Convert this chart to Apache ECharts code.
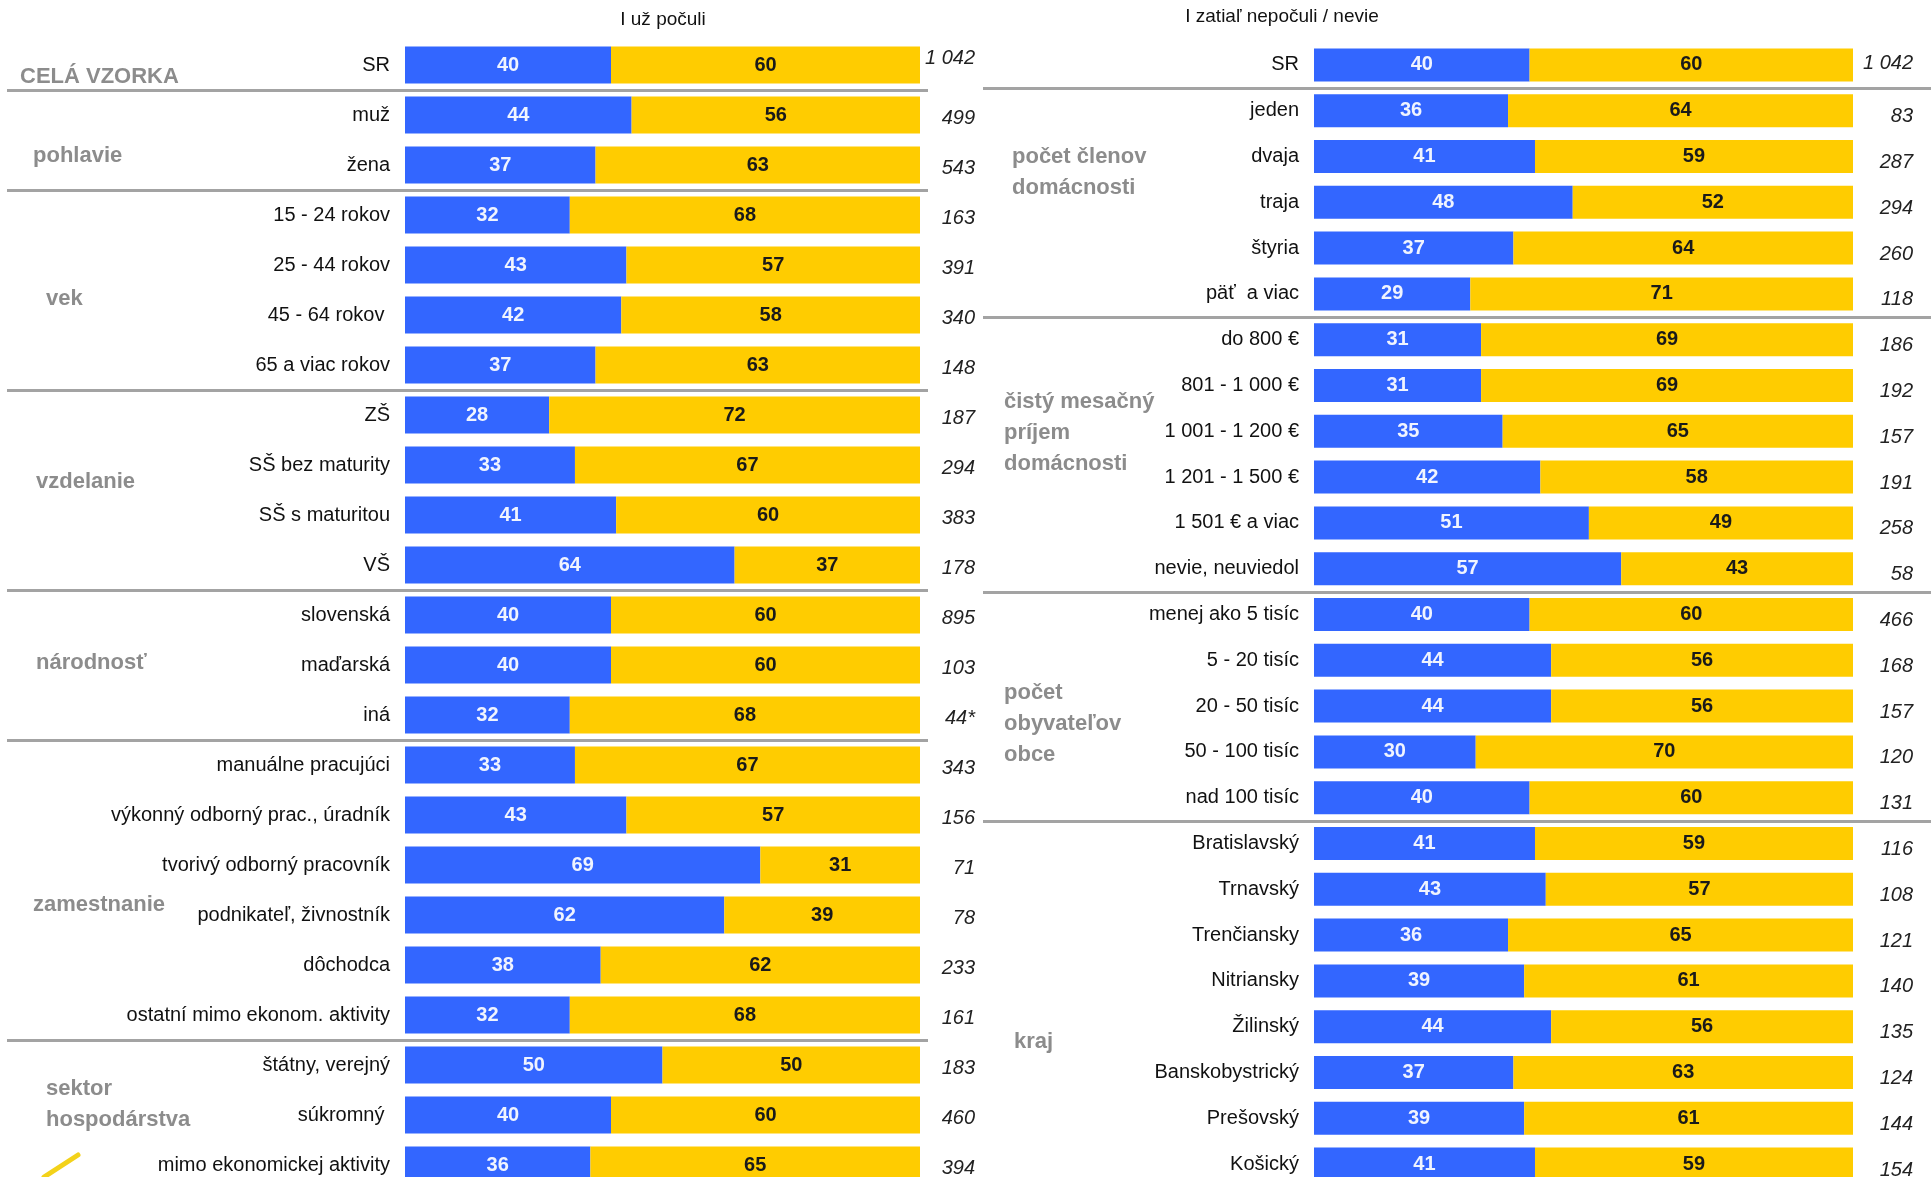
<!DOCTYPE html>
<html><head><meta charset="utf-8">
<script src="https://cdn.jsdelivr.net/npm/echarts@6/dist/echarts.min.js"></script>
<style>html,body{margin:0;padding:0;background:#fff}#c{width:1931px;height:1177px}</style>
</head><body><div id="c"></div>
<script>
// ---------- DATA ----------
const leftCategories = ['SR','muž','žena','15 - 24 rokov','25 - 44 rokov','45 - 64 rokov ','65 a viac rokov','ZŠ','SŠ bez maturity','SŠ s maturitou','VŠ','slovenská','maďarská','iná','manuálne pracujúci','výkonný odborný prac., úradník','tvorivý odborný pracovník','podnikateľ, živnostník','dôchodca','ostatní mimo ekonom. aktivity','štátny, verejný','súkromný ','mimo ekonomickej aktivity'];
const leftHeard    = [40,44,37,32,43,42,37,28,33,41,64,40,40,32,33,43,69,62,38,32,50,40,36];
const leftNotHeard = [60,56,63,68,57,58,63,72,67,60,37,60,60,68,67,57,31,39,62,68,50,60,65];
const leftCounts   = ['1 042','499','543','163','391','340','148','187','294','383','178','895','103','44*','343','156','71','78','233','161','183','460','394'];
const leftGroupNames = ['CELÁ VZORKA','pohlavie','vek','vzdelanie','národnosť','zamestnanie','sektor\nhospodárstva'];
const leftGroupSizes = [1,2,4,4,3,6,3];

const rightCategories = ['SR','jeden','dvaja','traja','štyria','päť  a viac','do 800 €','801 - 1 000 €','1 001 - 1 200 €','1 201 - 1 500 €','1 501 € a viac','nevie, neuviedol','menej ako 5 tisíc','5 - 20 tisíc','20 - 50 tisíc','50 - 100 tisíc','nad 100 tisíc','Bratislavský','Trnavský','Trenčiansky','Nitriansky','Žilinský','Banskobystrický','Prešovský','Košický'];
const rightHeard    = [40,36,41,48,37,29,31,31,35,42,51,57,40,44,44,30,40,41,43,36,39,44,37,39,41];
const rightNotHeard = [60,64,59,52,64,71,69,69,65,58,49,43,60,56,56,70,60,59,57,65,61,56,63,61,59];
const rightCounts   = ['1 042','83','287','294','260','118','186','192','157','191','258','58','466','168','157','120','131','116','108','121','140','135','124','144','154'];
const rightGroupNames = ['','počet členov\ndomácnosti','čistý mesačný\npríjem\ndomácnosti','počet\nobyvateľov\nobce','kraj'];
const rightGroupSizes = [1,5,6,5,8];

const seriesNames = ['I už počuli','I zatiaľ nepočuli / nevie'];

// ---------- LAYOUT ----------
const FONT = "'Liberation Sans', Arial, sans-serif";
const BLUE = '#3366ff', YELLOW = '#ffcc00';
const L = {left:405, width:515, top:40, height:1150};
const R = {left:1314, width:539, top:42, height:1145};

const chart = echarts.init(document.getElementById('c'), null, {renderer:'canvas'});

function catAxis(grid, data, opts) {
  return Object.assign({
    type:'category', gridIndex:grid, data:data, inverse:true,
    axisLine:{show:false}, axisTick:{show:false}, splitLine:{show:false}
  }, opts);
}
function barSeries(name, grid, data, color, labelColor, bw) {
  return {
    name:name, type:'bar', stack:'s'+grid, xAxisIndex:grid, yAxisIndex:grid*2,
    data:data, barWidth:bw, silent:true, clip:true,
    itemStyle:{color:color},
    label:{show:true, position:'inside', color:labelColor, fontFamily:FONT, fontWeight:'bold', fontSize:20}
  };
}

const catLabel = {fontFamily:FONT, fontSize:20, color:'#111', margin:15};
function countLabel(firstPad, otherPad, margin) {
  const base = {fontFamily:FONT, fontSize:20, fontStyle:'italic', color:'#222'};
  return Object.assign({}, base, {
    align:'right', verticalAlign:'middle', margin:margin,
    formatter:(v, i) => (i === 0 ? '{f|' : '{o|') + v + '}',
    rich:{
      f:Object.assign({}, base, {padding:firstPad}),
      o:Object.assign({}, base, {padding:otherPad})
    }
  });
}

chart.setOption({
  animation:false,
  backgroundColor:'#fff',
  grid:[
    {left:L.left, width:L.width, top:L.top, height:L.height, outerBoundsMode:'none', containLabel:false},
    {left:R.left, width:R.width, top:R.top, height:R.height, outerBoundsMode:'none', containLabel:false}
  ],
  xAxis:[
    {type:'value', gridIndex:0, min:0, max:100, show:false},
    {type:'value', gridIndex:1, min:0, max:100, show:false}
  ],
  yAxis:[
    catAxis(0, leftCategories, {axisLabel:catLabel}),
    catAxis(0, leftCounts, {position:'right', axisLabel:countLabel([0,0,14,0],[6,0,0,0],55)}),
    catAxis(1, rightCategories, {axisLabel:catLabel}),
    catAxis(1, rightCounts, {position:'right', axisLabel:countLabel([0,0,2,0],[12,0,0,0],60)})
  ],
  series:[
    barSeries(seriesNames[0], 0, leftHeard, BLUE, '#f0f4ff', 37),
    barSeries(seriesNames[1], 0, leftNotHeard, YELLOW, '#1a1a1a', 37),
    barSeries(seriesNames[0], 1, rightHeard, BLUE, '#f0f4ff', 33),
    barSeries(seriesNames[1], 1, rightNotHeard, YELLOW, '#1a1a1a', 33)
  ]
});

// ---------- DECORATION (separators, group labels, headers) ----------
const graphics = [];
function separators(sizes, grid, x1, x2) {
  const n = grid === 0 ? leftCategories.length : rightCategories.length;
  const pitch = (grid === 0 ? L.height : R.height) / n;
  const top = grid === 0 ? L.top : R.top;
  let acc = 0;
  for (let i = 0; i < sizes.length - 1; i++) {
    acc += sizes[i];
    const y = Math.round(top + acc * pitch) + 0.5;
    graphics.push({type:'line', shape:{x1:x1, y1:y, x2:x2, y2:y}, style:{stroke:'#a3a3a3', lineWidth:3}, silent:true});
  }
}
separators(leftGroupSizes, 0, 7, 928);
separators(rightGroupSizes, 1, 983, 1931);

const groupPos = {
  left:  [[20,77],[33,156],[46,299],[36,482],[36,663],[33,905],[46,1104]],
  right: [null,[1012,172],[1004,433],[1004,724],[1014,1042]]
};
function groupText(name, pos) {
  if (!pos || !name) return;
  graphics.push({type:'text', x:pos[0], y:pos[1], silent:true,
    style:{text:name, font:'bold 22px ' + FONT, fill:'#8c8c8c', lineHeight:31,
      textAlign:'left', textVerticalAlign:'middle', align:'left', verticalAlign:'middle'}});
}
leftGroupNames.forEach((n,i)=>groupText(n, groupPos.left[i]));
rightGroupNames.forEach((n,i)=>groupText(n, groupPos.right[i]));

graphics.push({type:'text', x:663, y:20, silent:true,
  style:{text:seriesNames[0], font:'19px ' + FONT, fill:'#111', textAlign:'center', textVerticalAlign:'middle', align:'center', verticalAlign:'middle'}});
graphics.push({type:'text', x:1282, y:17, silent:true,
  style:{text:seriesNames[1], font:'19px ' + FONT, fill:'#111', textAlign:'center', textVerticalAlign:'middle', align:'center', verticalAlign:'middle'}});
graphics.push({type:'line', shape:{x1:44, y1:1177, x2:78, y2:1155}, style:{stroke:'#f3d21a', lineWidth:5, lineCap:'round'}, silent:true});

chart.setOption({graphic:graphics});
</script>
</body></html>
